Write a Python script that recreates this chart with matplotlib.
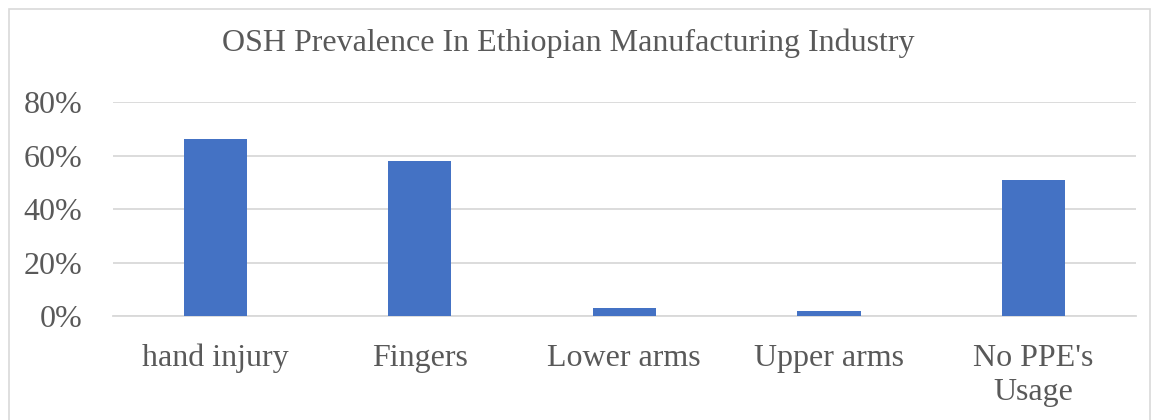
import matplotlib
matplotlib.use('Agg')
import matplotlib.pyplot as plt
from matplotlib.patches import Rectangle
from matplotlib.ticker import PercentFormatter

categories = ['hand injury', 'Fingers', 'Lower arms', 'Upper arms', "No PPE's\nUsage"]
prevalence = [66, 58, 3, 2, 51]
y_ticks = [0, 20, 40, 60, 80]

text_color = '#595959'
plt.rcParams['font.family'] = ['Liberation Serif', 'DejaVu Serif']

fig = plt.figure(figsize=(11.6, 4.2), dpi=100)
ax = fig.add_axes([0.0974, 0.2476, 0.8816, 0.5095])

# light frame round the whole chart
fig.patches.append(Rectangle((9 / 1160, -10 / 420), 1141 / 1160, 421 / 420,
                             transform=fig.transFigure, fill=False,
                             edgecolor='#d9d9d9', linewidth=1.2))

x = range(len(categories))
ax.bar(x, prevalence, width=0.31, color='#4472C4', zorder=3)

ax.set_xlim(-0.5, len(categories) - 0.5)
ax.set_ylim(0, 80)
ax.set_yticks(y_ticks)
ax.yaxis.set_major_formatter(PercentFormatter(decimals=0))
ax.set_xticks(list(x))
ax.set_xticklabels(categories, linespacing=1.25)

ax.grid(axis='y', color='#d9d9d9', linewidth=1.3, zorder=0)
for side in ['top', 'right', 'left']:
    ax.spines[side].set_visible(False)
ax.spines['bottom'].set_color('#d9d9d9')
ax.spines['bottom'].set_linewidth(1.3)
ax.tick_params(axis='both', length=0, labelsize=23, colors=text_color)
ax.tick_params(axis='y', pad=22)
ax.tick_params(axis='x', pad=20)

fig.text(568 / 1160, 1 - 43 / 420, 'OSH Prevalence In Ethiopian Manufacturing Industry',
         ha='center', va='center', fontsize=23, color=text_color)

plt.savefig('out.png', dpi=100)
plt.close(fig)
